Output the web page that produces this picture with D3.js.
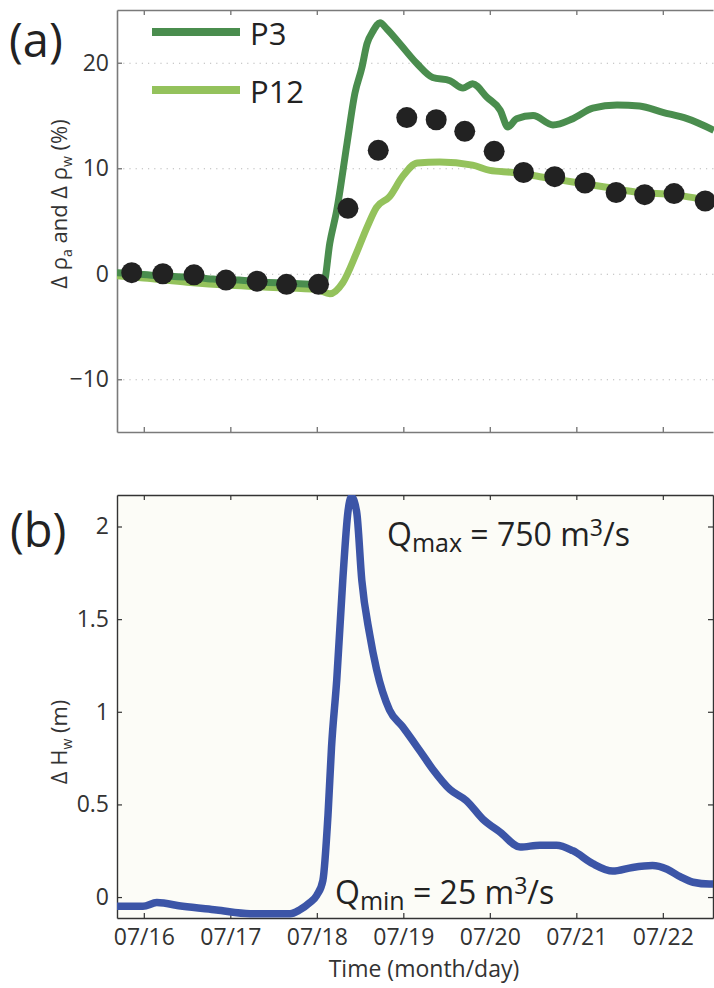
<!DOCTYPE html>
<html>
<head>
<meta charset="utf-8">
<script src="https://cdn.jsdelivr.net/npm/d3@7"></script>
<style>
  body { margin: 0; background: #fff; }
  svg { display: block; font-family: "Open Sans", sans-serif; }
</style>
</head>
<body>
<svg id="chart" width="714" height="988"></svg>
<script>
// time is day of July (fractional)
const dayTicks = [16, 17, 18, 19, 20, 21, 22];
const dayLabels = ["07/16", "07/17", "07/18", "07/19", "07/20", "07/21", "07/22"];

// panel (a): resistivity changes (%)
const p3Day = [15.69, 15.9, 16.2, 16.5, 16.8, 17.1, 17.4, 17.7, 18.0, 18.08, 18.15, 18.23, 18.35, 18.44, 18.52, 18.58,
  18.65, 18.73, 18.81, 18.96, 19.16, 19.34, 19.54, 19.69, 19.8, 19.97, 20.12, 20.21, 20.31, 20.5, 20.73, 20.96,
  21.19, 21.47, 21.73, 22.0, 22.28, 22.59];
const p3Val = [0.1, 0.0, -0.2, -0.3, -0.5, -0.6, -0.8, -0.9, -1.0, -0.9, 2.9, 6.0, 12.4, 17.1, 19.5, 21.8,
  23.0, 23.8, 23.2, 21.8, 19.9, 18.6, 18.3, 17.6, 18.0, 16.7, 15.5, 13.9, 14.7, 15.0, 14.1, 14.7,
  15.7, 16.0, 15.9, 15.3, 14.7, 13.6];

const p12Day = [15.69, 16.0, 16.5, 17.0, 17.5, 18.0, 18.15, 18.3, 18.46, 18.58, 18.69, 18.84, 18.99, 19.16, 19.42,
  19.8, 20.0, 20.27, 20.58, 20.96, 21.35, 21.73, 22.12, 22.51, 22.59];
const p12Val = [-0.2, -0.4, -0.8, -1.1, -1.3, -1.5, -1.9, -0.85, 2.0, 4.4, 6.3, 7.3, 9.2, 10.5, 10.6,
  10.3, 9.8, 9.6, 9.2, 8.7, 8.2, 7.7, 7.5, 7.0, 6.9];

const dotDay = [15.86, 16.22, 16.58, 16.95, 17.31, 17.65, 18.02, 18.36, 18.71, 19.04, 19.38, 19.71, 20.05, 20.39,
  20.75, 21.1, 21.46, 21.79, 22.13, 22.49];
const dotVal = [0.1, 0.0, -0.1, -0.6, -0.7, -1.0, -1.0, 6.2, 11.7, 14.8, 14.6, 13.5, 11.6, 9.6,
  9.2, 8.6, 7.7, 7.5, 7.6, 6.9];

const yTicksA = [-10, 0, 10, 20];

// panel (b): water level change (m)
const hwDay = [15.69, 15.99, 16.15, 16.45, 16.84, 17.23, 17.69, 17.8, 17.92, 18.0, 18.07, 18.13, 18.17, 18.23, 18.3,
  18.36, 18.4, 18.46, 18.52, 18.61, 18.69, 18.84, 18.99, 19.19, 19.34, 19.54, 19.73, 19.92, 20.12, 20.35,
  20.58, 20.77, 20.96, 21.19, 21.42, 21.65, 21.88, 22.05, 22.2, 22.35, 22.54, 22.59];
const hwVal = [-0.05, -0.05, -0.03, -0.05, -0.07, -0.09, -0.09, -0.07, -0.03, 0.01, 0.09, 0.45, 0.81, 1.17, 1.71,
  2.08, 2.16, 2.08, 1.71, 1.42, 1.23, 1.01, 0.92, 0.79, 0.69, 0.58, 0.52, 0.42, 0.35, 0.27,
  0.28, 0.28, 0.25, 0.18, 0.14, 0.16, 0.17, 0.15, 0.11, 0.08, 0.07, 0.07];

const yTicksB = [0, 0.5, 1, 1.5, 2];

const svg = d3.select("#chart");

const left = 117, right = 713;
const x = d3.scaleLinear().domain([15.69, 22.58]).range([left, right]);
const yA = d3.scaleLinear().domain([-15, 25]).range([432, 10]);
const yB = d3.scaleLinear().domain([-0.113, 2.17]).range([918, 495]);

const defs = svg.append("defs");
defs.append("clipPath").attr("id", "clipA")
  .append("rect").attr("x", left).attr("y", 10).attr("width", right - left + 2).attr("height", 422);
defs.append("clipPath").attr("id", "clipB")
  .append("rect").attr("x", left).attr("y", 495).attr("width", right - left).attr("height", 423);

// ---------- panel (a) ----------
const gA = svg.append("g");

// dotted grid
gA.append("g")
  .attr("transform", `translate(${left},0)`)
  .call(d3.axisLeft(yA).tickValues(yTicksA).tickSize(-(right - left + 2)).tickFormat(""))
  .call(g => g.select(".domain").remove())
  .call(g => g.selectAll("line").attr("stroke", "#b8b8b8").attr("stroke-width", 1).attr("stroke-dasharray", "1.2,5"));

const axisColA = "#7a7a7a";
gA.append("g")
  .attr("transform", `translate(${left},0)`)
  .call(d3.axisLeft(yA).tickValues(yTicksA).tickSize(-5).tickPadding(8).tickSizeOuter(0))
  .call(g => g.select(".domain").attr("stroke", axisColA).attr("stroke-width", 1.6))
  .call(g => g.selectAll("line").attr("stroke", axisColA).attr("stroke-width", 1.4))
  .call(g => g.selectAll("text").attr("font-size", 23).attr("fill", "#333").attr("font-family", "Open Sans"));

gA.append("g")
  .attr("transform", "translate(0,432)")
  .call(d3.axisBottom(x).tickValues(dayTicks).tickSize(-5).tickSizeOuter(0).tickFormat(""))
  .call(g => g.select(".domain").attr("stroke", axisColA).attr("stroke-width", 1.6))
  .call(g => g.selectAll("line").attr("stroke", axisColA).attr("stroke-width", 1.4));

gA.append("g")
  .attr("transform", "translate(0,10)")
  .call(d3.axisTop(x).tickValues(dayTicks).tickSize(-5).tickSizeOuter(0).tickFormat(""))
  .call(g => g.select(".domain").attr("stroke", axisColA).attr("stroke-width", 1.6))
  .call(g => g.selectAll("line").attr("stroke", axisColA).attr("stroke-width", 1.4));

const lineA = (days, vals) => d3.line()
  .curve(d3.curveMonotoneX)
  .x((d, i) => x(days[i]))
  .y(d => yA(d))(vals);

const plotA = gA.append("g").attr("clip-path", "url(#clipA)");
plotA.append("path")
  .attr("d", lineA(p12Day, p12Val))
  .attr("fill", "none").attr("stroke", "#94c25c").attr("stroke-width", 7)
  .attr("stroke-linejoin", "round");
plotA.append("path")
  .attr("d", lineA(p3Day, p3Val))
  .attr("fill", "none").attr("stroke", "#4a8d4e").attr("stroke-width", 7)
  .attr("stroke-linejoin", "round");

plotA.selectAll("circle.dot")
  .data(dotVal)
  .join("circle")
  .attr("class", "dot")
  .attr("cx", (d, i) => x(dotDay[i]))
  .attr("cy", d => yA(d))
  .attr("r", 10.5)
  .attr("fill", "#222");

// legend
const legend = [
  { name: "P3", color: "#4a8d4e", y: 32 },
  { name: "P12", color: "#94c25c", y: 90 }
];
const lg = gA.selectAll("g.legend").data(legend).join("g").attr("class", "legend");
lg.append("line")
  .attr("x1", 152).attr("x2", 240)
  .attr("y1", d => d.y).attr("y2", d => d.y)
  .attr("stroke", d => d.color).attr("stroke-width", 8);
lg.append("text")
  .attr("x", 250).attr("y", d => d.y + 13)
  .attr("font-size", 31).attr("fill", "#222")
  .text(d => d.name);

svg.append("text")
  .attr("x", 9).attr("y", 57)
  .attr("font-size", 47).attr("fill", "#222")
  .text("(a)");

const labA = svg.append("text")
  .attr("transform", "translate(67,204) rotate(-90)")
  .attr("text-anchor", "middle")
  .attr("font-size", 22).attr("fill", "#333");
labA.append("tspan").text("Δ ρ");
labA.append("tspan").attr("font-size", 14).attr("dy", 5).text("a");
labA.append("tspan").attr("dy", -5).text(" and Δ ρ");
labA.append("tspan").attr("font-size", 14).attr("dy", 5).text("w");
labA.append("tspan").attr("dy", -5).text(" (%)");

// ---------- panel (b) ----------
const gB = svg.append("g");
gB.append("rect")
  .attr("x", left).attr("y", 495).attr("width", right - left).attr("height", 423)
  .attr("fill", "#fcfcf7");

const axisColB = "#333";
gB.append("g")
  .attr("transform", `translate(${left},0)`)
  .call(d3.axisLeft(yB).tickValues(yTicksB).tickSize(-5).tickPadding(8).tickSizeOuter(0)
    .tickFormat(d => d === 0 ? "0" : d3.format("")(d)))
  .call(g => g.select(".domain").attr("stroke", axisColB).attr("stroke-width", 1.4))
  .call(g => g.selectAll("line").attr("stroke", axisColB).attr("stroke-width", 1.2))
  .call(g => g.selectAll("text").attr("font-size", 23).attr("fill", "#333").attr("font-family", "Open Sans"));

gB.append("g")
  .attr("transform", `translate(${right},0)`)
  .call(d3.axisRight(yB).tickValues(yTicksB).tickSize(-5).tickSizeOuter(0).tickFormat(""))
  .call(g => g.select(".domain").attr("stroke", axisColB).attr("stroke-width", 1.4))
  .call(g => g.selectAll("line").attr("stroke", axisColB).attr("stroke-width", 1.2));

gB.append("g")
  .attr("transform", "translate(0,495)")
  .call(d3.axisTop(x).tickValues(dayTicks).tickSize(-5).tickSizeOuter(0).tickFormat(""))
  .call(g => g.select(".domain").attr("stroke", axisColB).attr("stroke-width", 1.4))
  .call(g => g.selectAll("line").attr("stroke", axisColB).attr("stroke-width", 1.2));

gB.append("g")
  .attr("transform", "translate(0,918)")
  .call(d3.axisBottom(x).tickValues(dayTicks).tickSize(-5).tickPadding(11).tickSizeOuter(0)
    .tickFormat((d, i) => dayLabels[i]))
  .call(g => g.select(".domain").attr("stroke", axisColB).attr("stroke-width", 1.4))
  .call(g => g.selectAll("line").attr("stroke", axisColB).attr("stroke-width", 1.2))
  .call(g => g.selectAll("text").attr("font-size", 23).attr("fill", "#333").attr("font-family", "Open Sans"));

gB.append("g").attr("clip-path", "url(#clipB)")
  .append("path")
  .attr("d", d3.line().curve(d3.curveMonotoneX).x((d, i) => x(hwDay[i])).y(d => yB(d))(hwVal))
  .attr("fill", "none").attr("stroke", "#3c55a7").attr("stroke-width", 7.5)
  .attr("stroke-linejoin", "round");

svg.append("text")
  .attr("x", 10).attr("y", 547)
  .attr("font-size", 47).attr("fill", "#222")
  .text("(b)");

const labB = svg.append("text")
  .attr("transform", "translate(67,742) rotate(-90)")
  .attr("text-anchor", "middle")
  .attr("font-size", 22).attr("fill", "#333");
labB.append("tspan").text("Δ H");
labB.append("tspan").attr("font-size", 14).attr("dy", 5).text("w");
labB.append("tspan").attr("dy", -5).text(" (m)");

function qLabel(xp, yp, sub, rest) {
  const t = svg.append("text").attr("x", xp).attr("y", yp)
    .attr("font-size", 32).attr("fill", "#222");
  t.append("tspan").text("Q");
  t.append("tspan").attr("font-size", 25).attr("dy", 6).text(sub);
  t.append("tspan").attr("dy", -6).text(" = " + rest + " m");
  t.append("tspan").attr("font-size", 23).attr("dy", -10).text("3");
  t.append("tspan").attr("dy", 10).text("/s");
}
qLabel(387, 546, "max", "750");
qLabel(335, 904, "min", "25");

svg.append("text")
  .attr("x", 424).attr("y", 977)
  .attr("text-anchor", "middle")
  .attr("font-size", 23).attr("fill", "#333")
  .text("Time (month/day)");
</script>
</body>
</html>
